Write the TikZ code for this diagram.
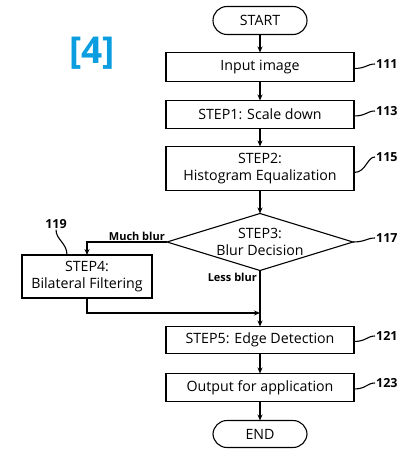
\documentclass[tikz,border=0pt]{standalone}
\usepackage{fontspec}
\setmainfont{Open Sans}
\usepackage{tikz}
\usetikzlibrary{
  positioning,
  shapes.geometric,        % decision diamond
  arrows.meta              % stealth arrowheads
}
\definecolor{figblue}{RGB}{10,158,225}

\begin{document}
\begin{tikzpicture}[
    x=1pt, y=-1pt,
    font=\fontsize{14.2}{17}\selectfont,
    >={Stealth[length=6pt, width=5pt]},
    every node/.style={align=center},
    line/.style={line width=1.1pt},
    termbox/.style={rectangle, draw, line width=1.1pt, rounded corners=14pt, outer sep=0pt,
                    minimum width=94pt, minimum height=28pt, inner sep=0pt},
    stepbox/.style={rectangle, draw, line width=1.1pt, outer sep=0pt,
                    minimum width=188pt, minimum height=29pt, inner sep=0pt},
    decbox/.style={diamond, draw, line width=1.1pt, aspect=3.26, inner sep=0pt, outer sep=0pt,
                   minimum width=186pt, minimum height=57pt},
    refnum/.style={font=\fontsize{12.5}{14}\selectfont\bfseries, inner sep=1pt},
    branch/.style={font=\fontsize{11}{12}\selectfont\bfseries, inner sep=1pt}
]
  \useasboundingbox (0,0) rectangle (418,449);

  \node[font=\fontsize{37}{42}\selectfont\bfseries, text=figblue] (tag) at (92,53) {[4]};

  \node[termbox]                                      (start) at (260,20.5) {START};
  \node[stepbox, below=18pt of start]                 (in)    {Input image};
  \node[stepbox, below=19pt of in, minimum height=28pt] (s1)  {STEP1: Scale down};
  \node[stepbox, below=18pt of s1, minimum height=44pt] (s2)
        {STEP2:\\Histogram Equalization};
  \node[decbox, below=23pt of s2]                     (dec)   {STEP3:\\Blur Decision};
  \node[stepbox, below=56pt of dec, minimum height=27pt] (s5) {STEP5: Edge Detection};
  \node[stepbox, below=20pt of s5, minimum height=28pt] (out) {Output for application};
  \node[termbox, below=19pt of out, minimum height=27pt] (end) {END};

  \node[stepbox, minimum width=130pt, minimum height=43pt] (s4) at (87,276.5)
        {STEP4:\\Bilateral Filtering};

  % reference numbers
  \node[refnum, anchor=west] (l111) at (375,64)  {111};
  \node[refnum, anchor=west] (l113) at (375,111) {113};
  \node[refnum, anchor=west] (l115) at (375,157) {115};
  \node[refnum, anchor=west] (l117) at (375,238) {117};
  \node[refnum, anchor=west] (l121) at (375,336) {121};
  \node[refnum, anchor=west] (l123) at (375,383) {123};
  \node[refnum]              (l119) at (56,224)  {119};

  \draw[line] ([yshift=-1.5pt]in.east)  .. controls +(12,0) and +(-8,0) .. (l111.west);
  \draw[line] ([yshift=-1.5pt]s1.east)  .. controls +(12,0) and +(-8,0) .. (l113.west);
  \draw[line] ([yshift=-4pt]s2.east)    .. controls +(12,0) and +(-8,0) .. (l115.west);
  \draw[line] (dec.east)                .. controls +(12,0) and +(-8,0) .. (l117.west);
  \draw[line] ([yshift=-1.5pt]s5.east)  .. controls +(12,0) and +(-8,0) .. (l121.west);
  \draw[line] ([yshift=-1.5pt]out.east) .. controls +(12,0) and +(-8,0) .. (l123.west);
  \draw[line] (l119.south) .. controls +(0,10) and +(0,-12) .. ([xshift=-20pt]s4.north);

  % flow
  \draw[line, ->] (start) -- (in);
  \draw[line, ->] (in)    -- (s1);
  \draw[line, ->] (s1)    -- (s2);
  \draw[line, ->] (s2)    -- (dec);
  \draw[line, ->] (dec.south) -- (s5.north);
  \draw[line, ->] (s5)    -- (out);
  \draw[line, ->] (out)   -- (end);

  \draw[line, ->] (dec.west) -| (s4.north);
  \coordinate (merge) at (dec.south |- 0,313);
  \draw[line, ->] (s4.south) |- (merge);

  \node[branch, anchor=south east] (much) at ([xshift=-1pt]dec.west) {Much blur};
  \node[branch, anchor=east] (less) at ([xshift=-2pt, yshift=-7pt]dec.south) {Less blur};
\end{tikzpicture}
\end{document}
